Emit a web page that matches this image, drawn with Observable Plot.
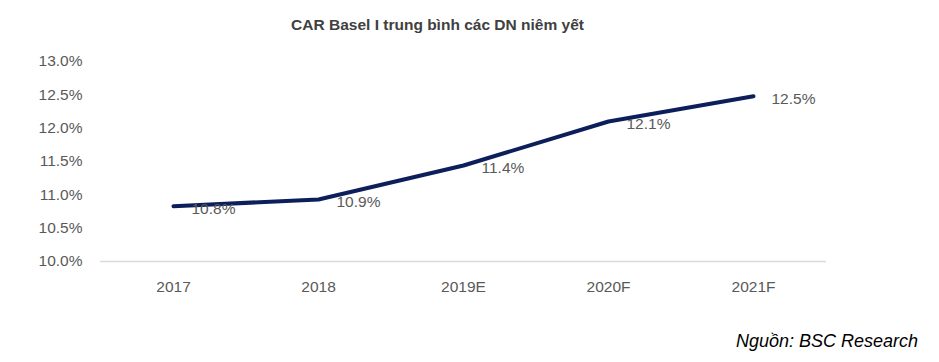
<!DOCTYPE html>
<html>
<head>
<meta charset="utf-8">
<script src="https://cdn.jsdelivr.net/npm/d3@7"></script>
<script src="https://cdn.jsdelivr.net/npm/@observablehq/plot@0.6"></script>
<style>
  body { margin: 0; background: #fff; width: 939px; height: 362px; position: relative; overflow: hidden; font-family: "Liberation Sans", Arial, sans-serif; }
  #title { position: absolute; top: 16px; left: 0; width: 875px; text-align: center; font-size: 15.5px; font-weight: bold; color: #404040; }
  #chart { position: absolute; top: 0; left: 0; }
  #source { position: absolute; right: 21px; top: 331px; font-size: 18px; font-style: italic; color: #000; }
</style>
</head>
<body>
<div id="chart"></div>
<div id="title">CAR Basel I trung bình các DN niêm yết</div>
<div id="source">Nguồn: BSC Research</div>
<script>
const years = ["2017", "2018", "2019E", "2020F", "2021F"];
const values = [10.83, 10.93, 11.44, 12.1, 12.48];
const labels = ["10.8%", "10.9%", "11.4%", "12.1%", "12.5%"];
const yTicks = [10.0, 10.5, 11.0, 11.5, 12.0, 12.5, 13.0];

const data = years.map((y, i) => ({year: y, value: values[i], label: labels[i]}));

const plot = Plot.plot({
  width: 939,
  height: 310,
  marginLeft: 100,
  marginRight: 113,
  marginTop: 61,
  marginBottom: 49,
  style: {fontFamily: "Liberation Sans, Arial, sans-serif", fontSize: "15.5px", color: "#595959", background: "transparent"},
  x: {type: "point", domain: years, padding: 0.5, label: null},
  y: {domain: [10, 13], label: null},
  marks: [
    Plot.axisY({ticks: yTicks, tickFormat: d => d.toFixed(1) + "%", tickSize: 0, tickPadding: 18, fontSize: 15.5, label: null, fill: "#595959"}),
    Plot.axisX({tickSize: 0, tickPadding: 19, fontSize: 15.5, label: null, fill: "#595959"}),
    Plot.ruleY([10], {stroke: "#d9d9d9", strokeWidth: 1.5}),
    Plot.line(data, {x: "year", y: "value", stroke: "#0c1f5b", strokeWidth: 4, strokeLinecap: "round", strokeLinejoin: "round"}),
    Plot.text(data, {x: "year", y: "value", text: "label", textAnchor: "start", dx: 18, dy: 3, fill: "#595959", fontSize: 15.5})
  ]
});
document.getElementById("chart").appendChild(plot);
</script>
</body>
</html>
